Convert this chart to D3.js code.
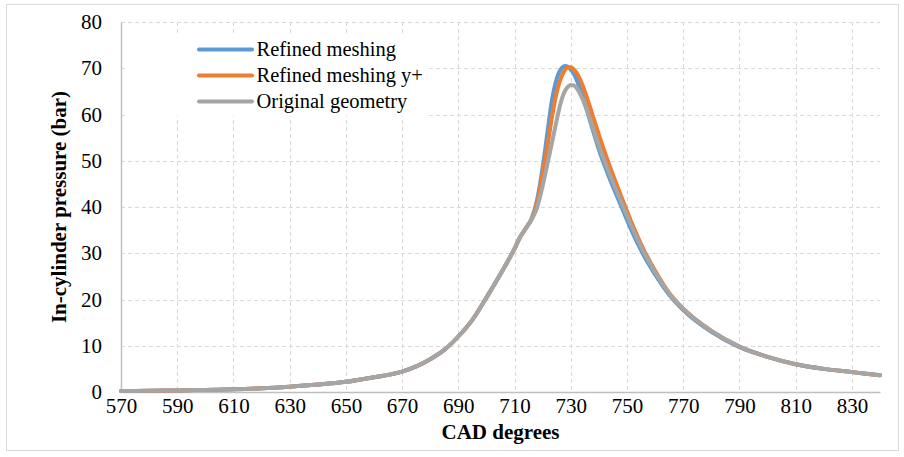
<!DOCTYPE html>
<html>
<head>
<meta charset="utf-8">
<script src="https://cdn.jsdelivr.net/npm/d3@7"></script>
<style>
  html, body { margin: 0; padding: 0; background: #fff; }
  svg { display: block; }
  svg text { font-family: "Liberation Serif", "Tinos", "Times New Roman", "Nimbus Roman", "DejaVu Serif", serif !important; fill: #000; }
</style>
</head>
<body>
<svg id="chart" width="904" height="457"></svg>
<script>
// ---- data ----
const cad = [570, 580, 590, 600, 610, 620, 630, 640, 650, 660, 670, 680, 685, 690, 695, 700, 705, 710, 712, 714, 716, 718, 720, 722, 723, 724, 725, 726, 727, 728, 729, 730, 731, 732, 734, 736, 738, 740, 744, 748, 752, 756, 760, 765, 770, 780, 790, 800, 810, 820, 830, 840];

const refined = [0.2, 0.27, 0.35, 0.45, 0.58, 0.8, 1.15, 1.6, 2.2, 3.2, 4.4, 7.1, 9.1, 12.0, 15.6, 20.4, 25.5, 31.0, 33.5, 35.4, 37.4, 41.5, 48.6, 57.5, 62.0, 65.3, 67.7, 69.3, 70.2, 70.5, 70.3, 69.7, 68.9, 67.6, 64.3, 60.4, 56.3, 52.4, 45.9, 40.1, 34.4, 29.5, 25.4, 21.0, 17.7, 13.0, 9.7, 7.6, 6.0, 5.0, 4.3, 3.6];

const refinedYplus = [0.2, 0.27, 0.35, 0.45, 0.58, 0.8, 1.15, 1.6, 2.2, 3.2, 4.4, 7.1, 9.1, 12.0, 15.6, 20.4, 25.5, 31.0, 33.5, 35.4, 37.3, 40.8, 47.3, 54.3, 58.3, 61.8, 64.8, 67.0, 68.6, 69.7, 70.2, 70.2, 69.8, 69.1, 66.6, 63.2, 59.4, 55.6, 48.6, 42.2, 36.1, 30.7, 26.2, 21.4, 18.0, 13.2, 9.8, 7.6, 6.0, 5.0, 4.3, 3.6];

const original = [0.2, 0.27, 0.35, 0.45, 0.58, 0.8, 1.15, 1.6, 2.2, 3.2, 4.4, 7.1, 9.1, 12.0, 15.6, 20.4, 25.5, 31.0, 33.5, 35.4, 37.2, 39.8, 44.6, 50.2, 53.0, 55.9, 58.8, 61.5, 63.7, 65.2, 66.0, 66.4, 66.3, 65.8, 63.6, 60.5, 56.9, 53.2, 46.8, 41.0, 35.3, 30.2, 25.9, 21.3, 18.0, 13.2, 9.8, 7.6, 6.0, 5.0, 4.3, 3.6];

const seriesNames = ["Refined meshing", "Refined meshing y+", "Original geometry"];
const seriesColors = ["#5B9BD5", "#ED7D31", "#A5A5A5"];
const seriesValues = [refined, refinedYplus, original];

const xTicks = [570, 590, 610, 630, 650, 670, 690, 710, 730, 750, 770, 790, 810, 830];
const yTicks = [0, 10, 20, 30, 40, 50, 60, 70, 80];

const xTitle = "CAD degrees";
const yTitle = "In-cylinder pressure (bar)";

// ---- layout ----
const FONT = '"Liberation Serif", "Tinos", "Times New Roman", "Nimbus Roman", "DejaVu Serif", serif';
const svg = d3.select("#chart");
const plot = { left: 121, right: 880, top: 22, bottom: 392 };

const x = d3.scaleLinear().domain([570, 840]).range([plot.left, plot.right]);
const y = d3.scaleLinear().domain([0, 80]).range([plot.bottom, plot.top]);

// outer border
svg.append("rect")
  .attr("x", 6.5).attr("y", 4.5).attr("width", 892).attr("height", 446)
  .attr("fill", "#fff").attr("stroke", "#d9d9d9").attr("stroke-width", 1);

// gridlines
const grid = svg.append("g");
grid.selectAll("line.h").data(yTicks.filter(d => d > 0)).enter().append("line")
  .attr("x1", plot.left).attr("x2", plot.right)
  .attr("y1", d => Math.round(y(d)) + 0.5).attr("y2", d => Math.round(y(d)) + 0.5)
  .attr("stroke", "#d9d9d9").attr("stroke-width", 1).attr("stroke-dasharray", "4,3");
grid.selectAll("line.v").data(xTicks.filter(d => d > 570)).enter().append("line")
  .attr("y1", plot.top).attr("y2", plot.bottom)
  .attr("x1", d => Math.round(x(d)) + 0.5).attr("x2", d => Math.round(x(d)) + 0.5)
  .attr("stroke", "#d9d9d9").attr("stroke-width", 1).attr("stroke-dasharray", "4,3");

// axes
const xAxis = d3.axisBottom(x).tickValues(xTicks).tickSize(0).tickPadding(6).tickFormat(d3.format("d"));
const gx = svg.append("g").attr("transform", `translate(0,${plot.bottom})`).call(xAxis);
gx.attr("font-family", FONT).attr("font-size", 21);
gx.select(".domain").attr("stroke", "#bfbfbf").attr("stroke-width", 1.5);
gx.selectAll("text").attr("fill", "#000");

const yAxis = d3.axisLeft(y).tickValues(yTicks).tickSize(0).tickPadding(19).tickFormat(d3.format("d"));
const gy = svg.append("g").attr("transform", `translate(${plot.left},0)`).call(yAxis);
gy.attr("font-family", FONT).attr("font-size", 21);
gy.select(".domain").attr("stroke", "#bfbfbf").attr("stroke-width", 1.5);
gy.selectAll("text").attr("fill", "#000");

// legend background (covers gridlines)
svg.append("rect").attr("x", 127).attr("y", 36).attr("width", 300).attr("height", 80).attr("fill", "#fff");

// lines
const line = d3.line()
  .x((d, i) => x(cad[i]))
  .y(d => y(d))
  .curve(d3.curveMonotoneX);

svg.append("g").selectAll("path").data(seriesValues).enter().append("path")
  .attr("d", d => line(d))
  .attr("fill", "none")
  .attr("stroke", (d, i) => seriesColors[i])
  .attr("stroke-width", 4)
  .attr("stroke-linejoin", "round")
  .attr("stroke-linecap", "round");

// legend
const legend = svg.append("g").attr("font-family", FONT);
const legY = [49.5, 75.5, 101.5];
seriesNames.forEach((name, i) => {
  legend.append("line")
    .attr("x1", 199).attr("x2", 252).attr("y1", legY[i]).attr("y2", legY[i])
    .attr("stroke", seriesColors[i]).attr("stroke-width", 4).attr("stroke-linecap", "round");
  legend.append("text")
    .attr("x", 256.5).attr("y", legY[i]).attr("dy", "0.33em")
    .attr("font-size", 20.5)
    .text(name);
});

// axis titles
svg.append("text")
  .attr("x", (plot.left + plot.right) / 2).attr("y", 439)
  .attr("text-anchor", "middle")
  .attr("font-family", FONT)
  .attr("font-size", 21).attr("font-weight", "bold")
  .text(xTitle);

svg.append("text")
  .attr("transform", `translate(66,207) rotate(-90)`)
  .attr("text-anchor", "middle")
  .attr("font-family", FONT)
  .attr("font-size", 21).attr("font-weight", "bold")
  .text(yTitle);
</script>
</body>
</html>
